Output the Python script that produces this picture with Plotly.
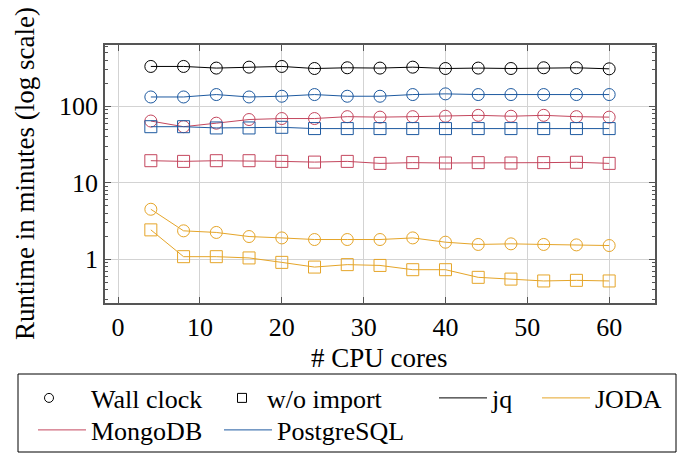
import plotly.graph_objects as go

cores = [4, 8, 12, 16, 20, 24, 28, 32, 36, 40, 44, 48, 52, 56, 60]

jq_wall = [331, 331, 315, 324, 331, 311, 318, 315, 324, 311, 315, 311, 318, 318, 308]
pg_wall = [132, 132, 142, 132, 135, 142, 135, 135, 142, 145, 142, 142, 142, 142, 142]
pg_noimp = [54, 54, 52, 52, 53, 51, 51, 51, 51, 51, 51, 51, 51, 51, 51]
mongo_wall = [64, 54, 60, 67, 69, 69, 73, 72, 73, 74, 76, 74, 76, 73, 72]
mongo_noimp = [19.4, 19.0, 19.4, 19.4, 19.0, 18.6, 19.0, 17.9, 18.3, 18.1, 18.3, 18.1, 18.3, 18.5, 17.9]
joda_wall = [4.5, 2.35, 2.24, 1.98, 1.90, 1.81, 1.81, 1.81, 1.90, 1.67, 1.56, 1.59, 1.56, 1.54, 1.51]
joda_noimp = [2.42, 1.08, 1.08, 1.04, 0.91, 0.79, 0.85, 0.83, 0.73, 0.73, 0.58, 0.55, 0.52, 0.53, 0.52]

x_ticks = [0, 10, 20, 30, 40, 50, 60]
x_title = "# CPU cores"
y_title = "Runtime in minutes (log scale)"

C_JQ = "#000000"
C_JODA = "#E5A529"
C_MONGO = "#C4475E"
C_PG = "#1E5AA0"

FONT = "Liberation Serif, Times New Roman, Times, DejaVu Serif, serif"
FS = 26
FS_TITLE = 27

# The page body adds an 8px offset; layout is expressed in screenshot pixels.
OFF = 8
W, H = 689 - OFF, 458 - OFF
L, R, T, B = 105 - OFF, 655 - OFF, 45 - OFF, 303 - OFF


def px_x(p):
    return (p - OFF - L) / (R - L)


def px_y(p):
    return (B - (p - OFF)) / (B - T)


fig = go.Figure()

series = [
    (jq_wall, C_JQ, "circle-open"),
    (pg_wall, C_PG, "circle-open"),
    (mongo_wall, C_MONGO, "circle-open"),
    (pg_noimp, C_PG, "square-open"),
    (mongo_noimp, C_MONGO, "square-open"),
    (joda_wall, C_JODA, "circle-open"),
    (joda_noimp, C_JODA, "square-open"),
]
for vals, col, sym in series:
    fig.add_trace(go.Scatter(
        x=cores, y=vals, mode="lines+markers", showlegend=False,
        line=dict(color=col, width=1),
        marker=dict(symbol=sym, size=12, color=col, line=dict(width=1, color=col)),
    ))

# legend entries, each in its own legend so the columns can be placed like the original
# (name, mode, symbol, colour, text x, row y, symbol width)
legend_items = [
    ("Wall clock", "markers", "circle-open", "black", 91, 398, 74),
    ("w/o import", "markers", "square-open", "black", 267, 398, 40),
    ("jq", "lines", None, C_JQ, 492, 398, 48),
    ("JODA", "lines", None, C_JODA, 595, 398, 48),
    ("MongoDB", "lines", None, C_MONGO, 91, 430, 48),
    ("PostgreSQL", "lines", None, C_PG, 277, 430, 48),
]
legend_layout = {}
for i, (name, mode, sym, col, tx, ty, iw) in enumerate(legend_items):
    key = "legend" if i == 0 else f"legend{i + 1}"
    kw = dict(x=[None], y=[None], mode=mode, name=name, legend=key)
    if mode == "markers":
        kw["marker"] = dict(symbol=sym, size=9, color=col, line=dict(width=1, color=col))
    else:
        kw["line"] = dict(color=col, width=1)
    fig.add_trace(go.Scatter(**kw))
    legend_layout[key] = dict(
        x=px_x(tx - iw - 10), y=px_y(ty), xanchor="left", yanchor="middle",
        orientation="h", bgcolor="rgba(0,0,0,0)", borderwidth=0,
        font=dict(family=FONT, size=FS, color="black"), itemwidth=iw,
    )

axis_common = dict(
    showline=True, linecolor="#555555", linewidth=1.5, mirror="ticks",
    ticks="inside", ticklen=6, tickcolor="#555555", tickwidth=1,
    showgrid=True, gridcolor="#d3d3d3", gridwidth=1, zeroline=False,
    tickfont=dict(family=FONT, size=FS, color="black"), automargin=False,
)

fig.update_xaxes(range=[-1.6, 65.6], tickvals=x_ticks, **axis_common)
fig.update_yaxes(type="log", range=[-0.572, 2.80], dtick=1,
                 minor=dict(dtick="D1", ticks="inside", ticklen=3, tickcolor="#555555", showgrid=False),
                 **axis_common)

fig.add_annotation(text=x_title, xref="paper", yref="paper", x=px_x(379.5), y=px_y(358),
                   xanchor="center", yanchor="middle", showarrow=False,
                   font=dict(family=FONT, size=FS_TITLE, color="black"))
fig.add_annotation(text=y_title, xref="paper", yref="paper", x=px_x(25), y=px_y(174),
                   xanchor="center", yanchor="middle", showarrow=False, textangle=-90,
                   font=dict(family=FONT, size=FS_TITLE, color="black"))

fig.add_shape(type="rect", xref="paper", yref="paper",
              x0=px_x(18), x1=px_x(676), y0=px_y(374), y1=px_y(452),
              line=dict(color="black", width=1), fillcolor="rgba(0,0,0,0)", layer="above")

fig.update_layout(
    width=W, height=H,
    margin=dict(l=L, r=W - R, t=T, b=H - B, autoexpand=False),
    plot_bgcolor="white", paper_bgcolor="white",
    font=dict(family=FONT, size=FS, color="black"),
    **legend_layout,
)

fig.write_html("out.html")
